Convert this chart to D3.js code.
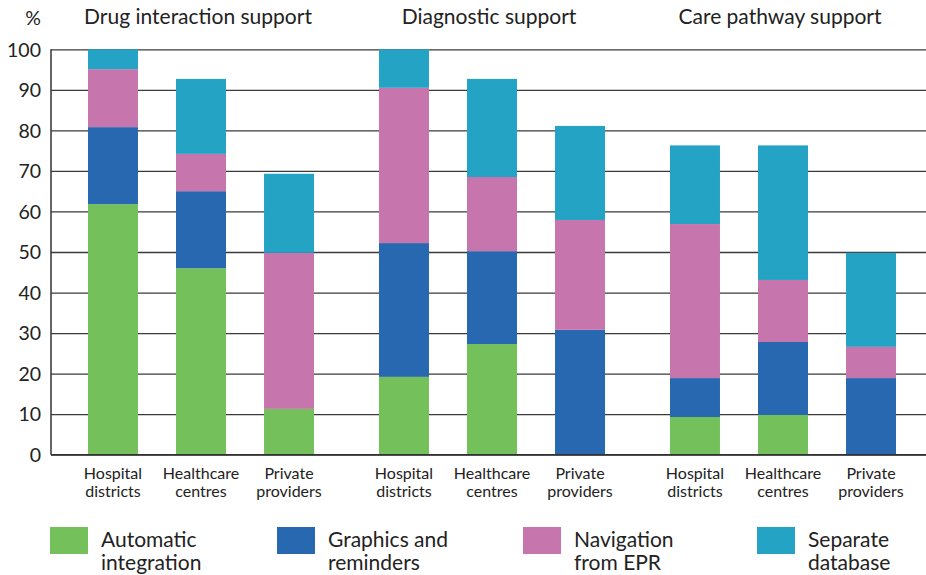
<!DOCTYPE html>
<html><head><meta charset="utf-8">
<script src="https://cdn.jsdelivr.net/npm/d3@7"></script>
<style>body{margin:0;background:#fff;} svg{display:block;} text{font-family:Lato,"Open Sans",sans-serif;fill:#222;}</style>
</head><body>
<svg id="chart" width="926" height="575"></svg>
<script>
const groups = ["Drug interaction support", "Diagnostic support", "Care pathway support"];
const categories = ["Hospital districts", "Healthcare centres", "Private providers"];
const seriesNames = ["Automatic integration", "Graphics and reminders", "Navigation from EPR", "Separate database"];
const legendLines = [["Automatic", "integration"], ["Graphics and", "reminders"], ["Navigation", "from EPR"], ["Separate", "database"]];
const colors = ["#74c15b", "#2768b1", "#c776ad", "#25a3c5"];
// values per group, per category: [automatic, graphics, navigation, separate]
const drugValues = [[61.8, 19.0, 14.3, 4.9], [46.0, 19.0, 9.2, 18.5], [11.3, 0, 38.5, 19.5]];
const diagValues = [[19.2, 33.0, 38.3, 9.5], [27.3, 22.9, 18.3, 24.2], [0, 30.8, 27.1, 23.2]];
const careValues = [[9.3, 9.6, 38.0, 19.4], [9.8, 18.0, 15.3, 33.2], [0, 18.9, 7.7, 23.2]];
const yTicks = [0, 10, 20, 30, 40, 50, 60, 70, 80, 90, 100];

const groupValues = [drugValues, diagValues, careValues];
const svg = d3.select("#chart");
const plotLeft = 51, plotRight = 926, yTop = 49.3, yBottom = 454.7;
const legendXs = [50, 277, 523, 757];

const y = d3.scaleLinear().domain([0, 100]).range([yBottom, yTop]);
const xOuter = d3.scaleBand().domain(groups).range([55.5, 928.5]).padding(0);
const xInner = d3.scaleBand().domain(categories).range([0, xOuter.bandwidth()]).paddingInner(0.432).paddingOuter(0.369);

// gridlines
const yAxis = d3.axisLeft(y).tickValues(yTicks).tickSize(-(plotRight - plotLeft)).tickFormat(d3.format("d"));
const gAxis = svg.append("g").attr("transform", `translate(${plotLeft},0)`).call(yAxis);
gAxis.select(".domain").remove();
gAxis.selectAll(".tick line").attr("stroke", "#3a3a3a").attr("stroke-width", 1.3);
gAxis.selectAll(".tick text").attr("x", -10).attr("dy", "0.35em").style("font-size", "19.5px").style("fill", "#222");
svg.append("line").attr("x1", plotLeft).attr("x2", plotLeft).attr("y1", yTop).attr("y2", yBottom)
  .attr("stroke", "#333").attr("stroke-width", 1.5);

// bars
const stack = d3.stack().keys([0, 1, 2, 3]).value((d, k) => d[k]);
groups.forEach((g, gi) => {
  const layers = stack(groupValues[gi]);
  const gg = svg.append("g").attr("transform", `translate(${xOuter(g)},0)`);
  layers.forEach((layer, si) => {
    gg.selectAll(null).data(layer.map((d, ci) => ({d, ci}))).enter().append("rect")
      .filter(o => o.d[1] - o.d[0] > 0)
      .attr("x", o => xInner(categories[o.ci]))
      .attr("width", xInner.bandwidth())
      .attr("y", o => y(o.d[1]))
      .attr("height", o => y(o.d[0]) - y(o.d[1]))
      .attr("fill", colors[si]);
  });
  // group title
  svg.append("text").attr("x", xOuter(g) + xOuter.bandwidth() / 2 - 3).attr("y", 24)
    .attr("text-anchor", "middle").style("font-size", "21px").text(g);
  // category labels
  categories.forEach(c => {
    const words = c.split(" ");
    const cx = xOuter(g) + xInner(c) + xInner.bandwidth() / 2;
    const t = svg.append("text").attr("text-anchor", "middle").style("font-size", "16px").attr("y", 479);
    t.append("tspan").attr("x", cx).text(words[0]);
    t.append("tspan").attr("x", cx).attr("dy", 18).text(words[1]);
  });
});
// zero baseline on top
svg.append("line").attr("x1", plotLeft).attr("x2", plotRight).attr("y1", y(0)).attr("y2", y(0))
  .attr("stroke", "#333").attr("stroke-width", 1.5);

svg.append("text").attr("x", 33).attr("y", 25).attr("text-anchor", "middle").style("font-size", "19.5px").text("%");

// legend
seriesNames.forEach((s, i) => {
  const lx = legendXs[i];
  svg.append("rect").attr("x", lx).attr("y", 527).attr("width", 38).attr("height", 27).attr("fill", colors[i]);
  const t = svg.append("text").style("font-size", "21px");
  t.append("tspan").attr("x", lx + 51).attr("y", 547).text(legendLines[i][0]);
  t.append("tspan").attr("x", lx + 51).attr("y", 570).text(legendLines[i][1]);
});
</script>
</body></html>
